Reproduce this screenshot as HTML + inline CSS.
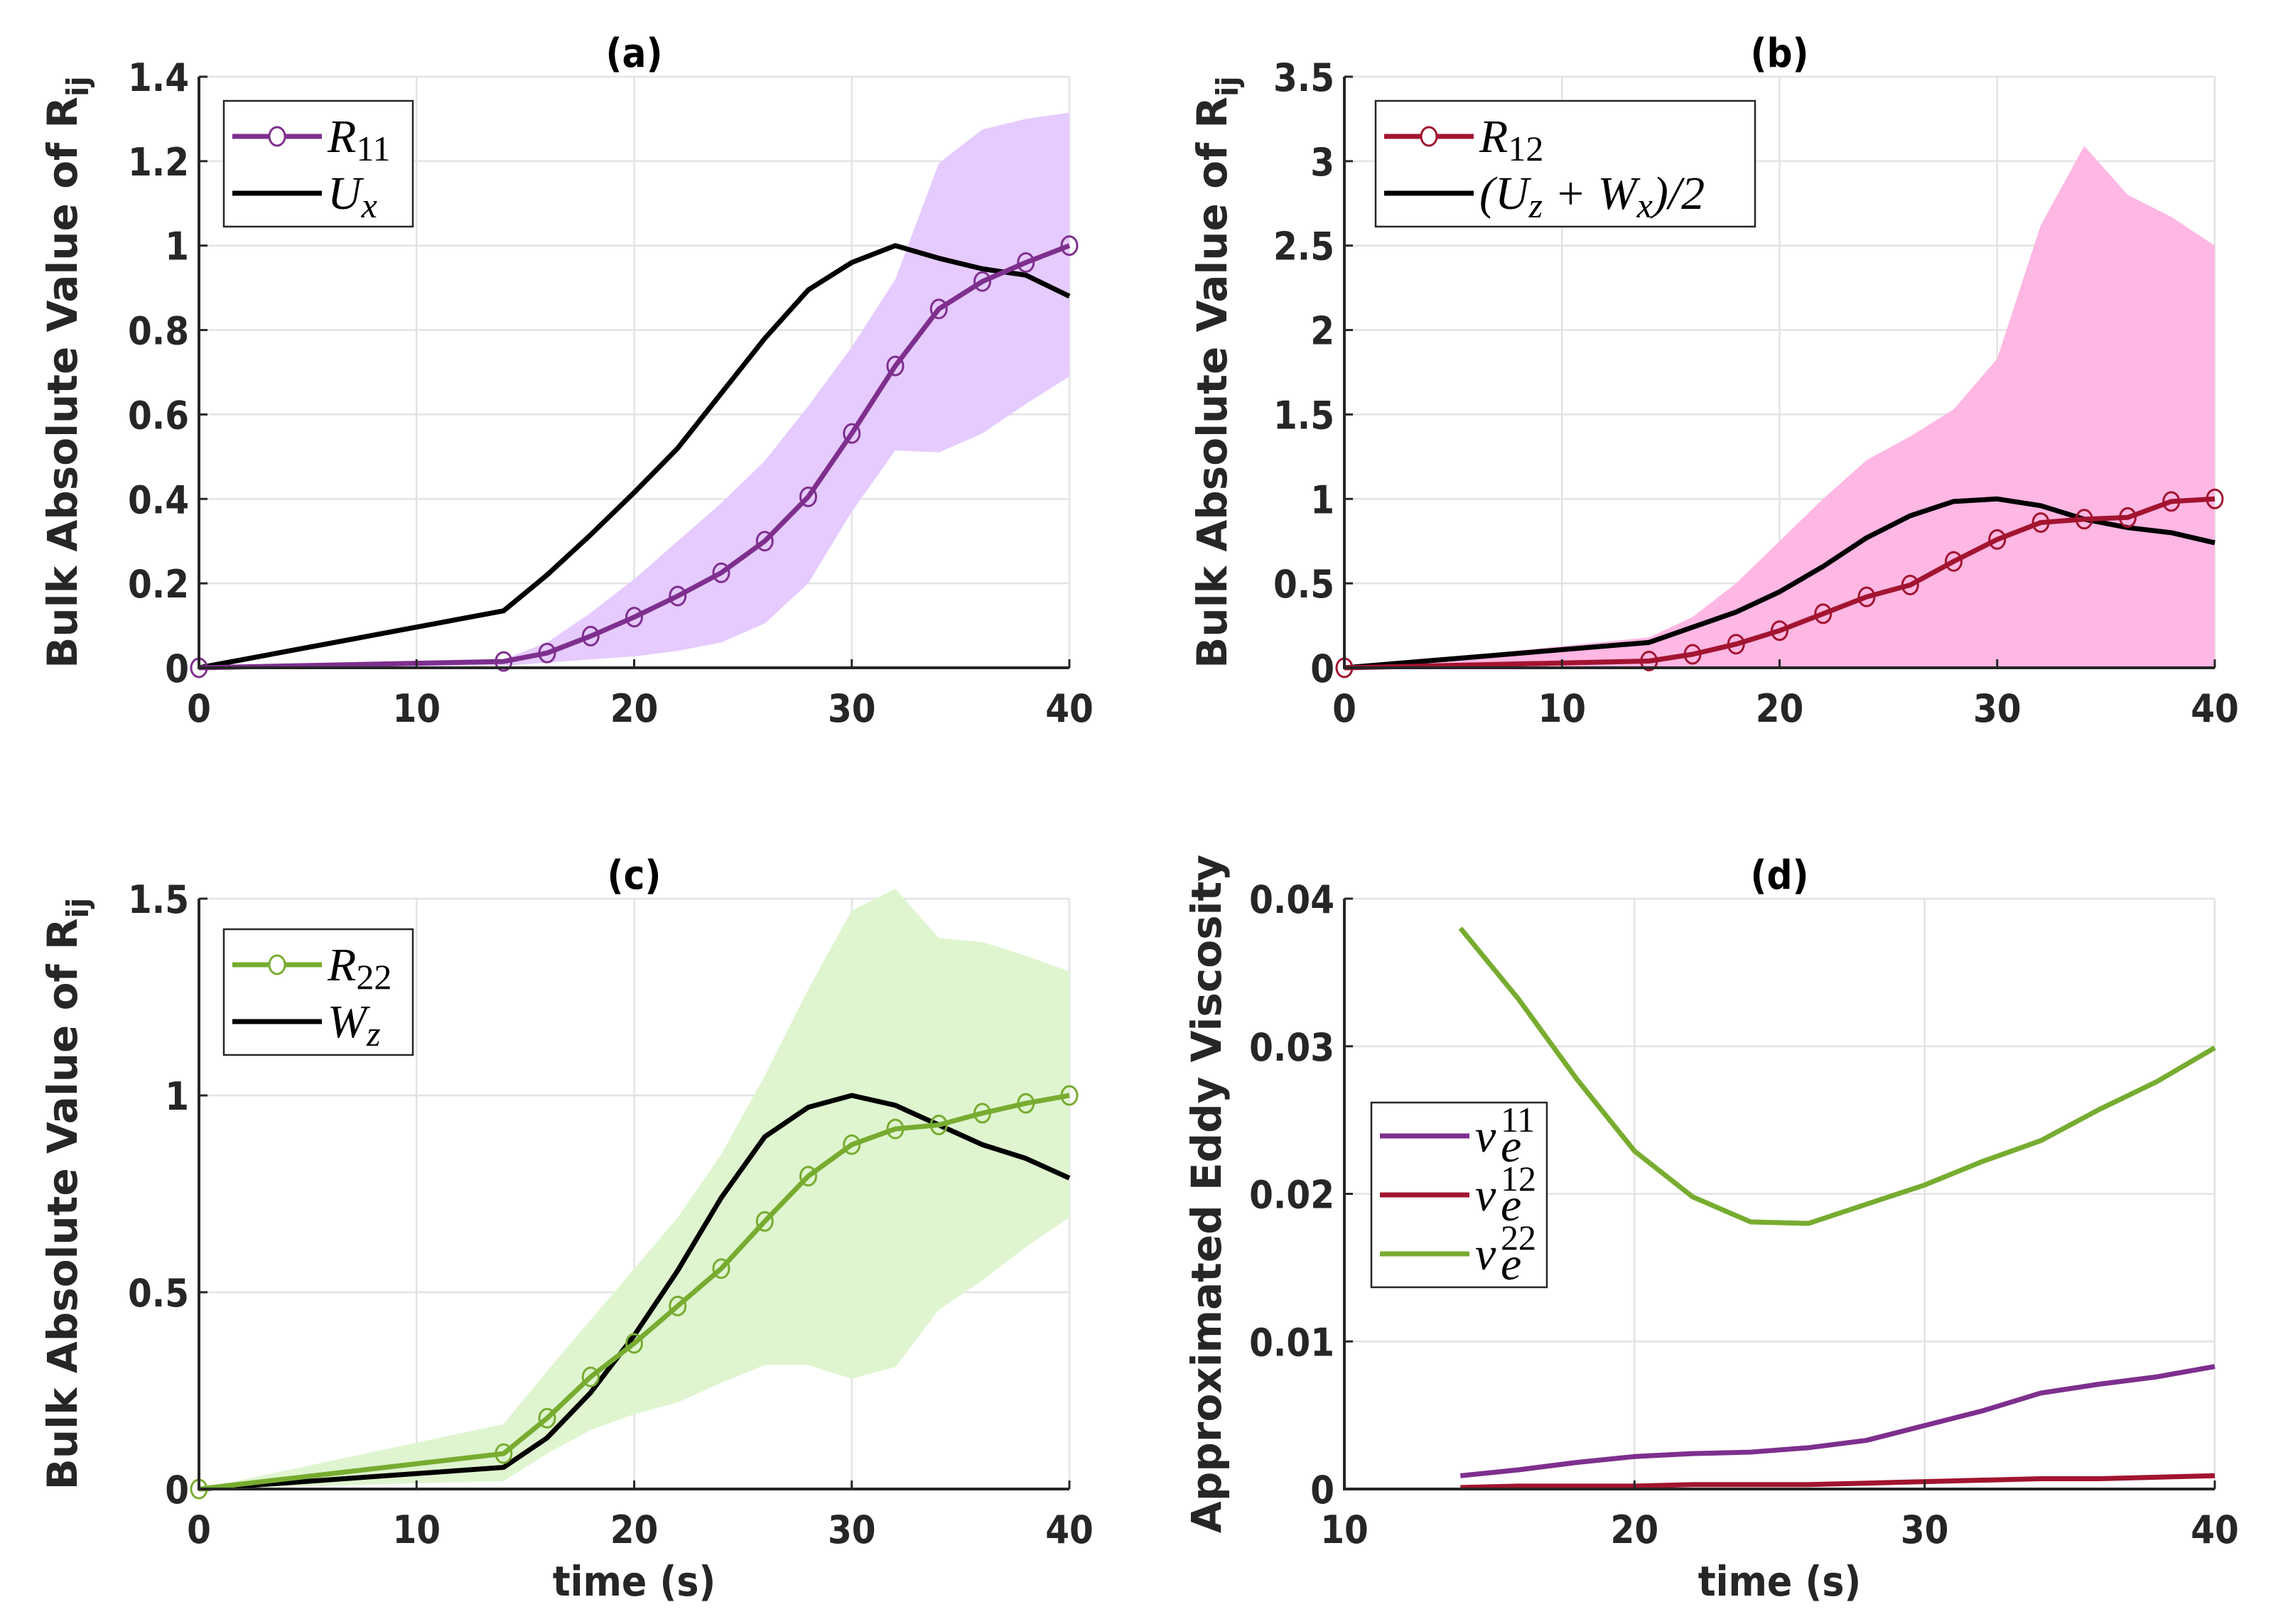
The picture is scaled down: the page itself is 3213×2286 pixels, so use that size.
<!DOCTYPE html>
<html><head><meta charset="utf-8">
<style>
html,body{margin:0;padding:0;background:#fff;}
svg{display:block;}
.tk{font-family:"DejaVu Sans Condensed","DejaVu Sans","Liberation Sans",sans-serif;font-weight:bold;font-size:54px;fill:#262626;}
.ttl{font-family:"DejaVu Sans Condensed","DejaVu Sans","Liberation Sans",sans-serif;font-weight:bold;font-size:56px;fill:#000;}
.xl{font-family:"DejaVu Sans Condensed","DejaVu Sans","Liberation Sans",sans-serif;font-weight:bold;font-size:58px;fill:#262626;}
.yl{font-family:"DejaVu Sans","Liberation Sans",sans-serif;font-weight:bold;font-size:58px;fill:#262626;}
.lg{font-family:"Liberation Serif",serif;font-style:italic;font-size:66px;fill:#000;}
.lgn{font-family:"Liberation Serif",serif;font-size:50px;fill:#000;}
</style></head>
<body>
<svg id="fig" width="3213" height="2286" viewBox="0 0 3213 2286" xmlns="http://www.w3.org/2000/svg"></svg>
<script>
const tA = [0,14,16,18,20,22,24,26,28,30,32,34,36,38,40];
const r11 = [0,0.015,0.035,0.075,0.12,0.17,0.225,0.30,0.405,0.555,0.715,0.85,0.915,0.96,1.0];
const ux = [0,0.135,0.22,0.315,0.415,0.52,0.65,0.78,0.895,0.96,1.0,0.97,0.945,0.93,0.88];
const r11Up = [0,0.02,0.06,0.13,0.21,0.30,0.39,0.49,0.62,0.76,0.92,1.195,1.275,1.30,1.315];
const r11Lo = [0,0.005,0.012,0.02,0.027,0.04,0.06,0.105,0.20,0.37,0.515,0.51,0.555,0.625,0.69];
const r12 = [0,0.04,0.08,0.14,0.22,0.32,0.42,0.49,0.63,0.76,0.86,0.88,0.89,0.985,1.0];
const uzwx = [0,0.15,0.24,0.33,0.45,0.6,0.77,0.9,0.985,1.0,0.96,0.88,0.83,0.80,0.74];
const r12Up = [0,0.18,0.3,0.5,0.75,1.0,1.23,1.37,1.53,1.83,2.62,3.09,2.8,2.67,2.5];
const r12Lo = [0,0,0,0,0,0,0,0,0,0,0,0,0,0,0];
const r22 = [0,0.09,0.18,0.285,0.37,0.465,0.56,0.68,0.795,0.875,0.915,0.925,0.955,0.98,1.0];
const wz = [0,0.055,0.13,0.245,0.39,0.555,0.74,0.895,0.97,1.0,0.975,0.925,0.875,0.84,0.79];
const r22Up = [0,0.165,0.3,0.43,0.56,0.69,0.85,1.05,1.27,1.47,1.525,1.4,1.39,1.355,1.315];
const r22Lo = [0,0.02,0.09,0.15,0.19,0.22,0.27,0.315,0.315,0.28,0.31,0.455,0.53,0.615,0.69];
const tD = [14,16,18,20,22,24,26,28,30,32,34,36,38,40];
const nu11 = [0.0009,0.0013,0.0018,0.0022,0.0024,0.0025,0.0028,0.0033,0.0043,0.0053,0.0065,0.0071,0.0076,0.0083];
const nu12 = [0.0001,0.0002,0.0002,0.0002,0.0003,0.0003,0.0003,0.0004,0.0005,0.0006,0.0007,0.0007,0.0008,0.0009];
const nu22 = [0.038,0.0332,0.0278,0.0229,0.0198,0.0181,0.018,0.0193,0.0206,0.0222,0.0236,0.0257,0.0276,0.0299];
const ticksXA = [0,10,20,30,40];
const ticksXD = [10,20,30,40];
const ticksYA = [0,0.2,0.4,0.6,0.8,1,1.2,1.4];
const ticksYB = [0,0.5,1,1.5,2,2.5,3,3.5];
const ticksYC = [0,0.5,1,1.5];
const ticksYD = [0,0.01,0.02,0.03,0.04];

const NS="http://www.w3.org/2000/svg";
const svg=document.getElementById('fig');
function mk(tag,attrs,parent){const e=document.createElementNS(NS,tag);for(const k in attrs)e.setAttribute(k,attrs[k]);(parent||svg).appendChild(e);return e;}

function panel(o){
  const g=mk('g',{});
  
  
  const X=v=>o.L+(v-o.x0)/(o.x1-o.x0)*(o.R-o.L);
  const Y=v=>o.B-(v-o.y0)/(o.y1-o.y0)*(o.B-o.T);
  o.xt.forEach(v=>{const l=mk('line',{x1:X(v),x2:X(v),y1:o.T,y2:o.B,stroke:'#e3e3e3','stroke-width':2.5},g);
    });
  o.yt.forEach(v=>{const l=mk('line',{x1:o.L,x2:o.R,y1:Y(v),y2:Y(v),stroke:'#e3e3e3','stroke-width':2.5},g);
    });
  (o.bands||[]).forEach(b=>{
    let d='';b.t.forEach((t,i)=>{d+=(i?'L':'M')+X(t)+' '+Y(b.up[i]);});
    for(let i=b.t.length-1;i>=0;i--)d+='L'+X(b.t[i])+' '+Y(b.lo[i]);
    const p=mk('path',{d:d+'Z',fill:b.color,stroke:'none'},g);
    
  });
  o.series.forEach(s=>{
    const pts=s.t.map((t,i)=>X(t)+','+Y(s.v[i])).join(' ');
    const pl=mk('polyline',{points:pts,fill:'none',stroke:s.color,'stroke-width':7,'stroke-linejoin':'round'},g);
    
    if(s.marker){s.t.forEach((t,i)=>{const c=mk('ellipse',{cx:X(t),cy:Y(s.v[i]),rx:11,ry:13,fill:'none',stroke:s.color,'stroke-width':3},g);
      });}
  });
  const ax=mk('path',{d:`M${o.L} ${o.T}L${o.L} ${o.B}L${o.R} ${o.B}`,fill:'none',stroke:'#262626','stroke-width':4},g);
  
  o.xt.forEach(v=>{mk('line',{x1:X(v),x2:X(v),y1:o.B,y2:o.B-12,stroke:'#262626','stroke-width':3},g);
    const t=mk('text',{x:X(v),y:o.B+76,'text-anchor':'middle',class:'tk'},g);t.textContent=v;
    });
  o.yt.forEach(v=>{mk('line',{x1:o.L,x2:o.L+12,y1:Y(v),y2:Y(v),stroke:'#262626','stroke-width':3},g);
    const t=mk('text',{x:o.L-14,y:Y(v)+20,'text-anchor':'end',class:'tk'},g);t.textContent=v;
    });
  const tt=mk('text',{x:(o.L+o.R)/2,y:o.T-14,'text-anchor':'middle',class:'ttl'},g);tt.textContent=o.title;
  
  if(o.xlabel){const xl=mk('text',{x:(o.L+o.R)/2,y:o.B+150,'text-anchor':'middle',class:'xl'},g);xl.textContent=o.xlabel;
    }
  const yc=(o.T+o.B)/2;
  const yl=mk('text',{x:o.ylx,y:yc,'text-anchor':'middle',class:'yl',transform:`rotate(-90 ${o.ylx} ${yc})`},g);
  
  if(o.ylabel){yl.textContent=o.ylabel;}else{yl.textContent='Bulk Absolute Value of R';const s=mk('tspan',{'font-size':'42','dy':'16'},yl);s.textContent='ij';}
  const lg=o.legend;
  const r=mk('rect',{x:lg.x,y:lg.y,width:lg.w,height:lg.h,fill:'#fff',stroke:'#262626','stroke-width':2.5},g);
  
  lg.items.forEach((it,i)=>{
    const yy=lg.y+lg.first+i*lg.step;
    const ln=mk('line',{x1:lg.x+12,x2:lg.x+138,y1:yy,y2:yy,stroke:it.color,'stroke-width':7},g);
    
    if(it.marker)mk('ellipse',{cx:lg.x+75,cy:yy,rx:11,ry:13,fill:'#fff',stroke:it.color,'stroke-width':3},g);
    const tx=lg.x+146;
    if(it.sup){
      const t=mk('text',{x:tx,y:yy+22,class:'lg','font-size':'76'},g);t.textContent=it.main;
      
      const s1=mk('text',{x:tx+36,y:yy-6,class:'lgn'},g);s1.textContent=it.sup;
      const s2=mk('text',{x:tx+36,y:yy+36,class:'lg','font-size':'50'},g);s2.textContent=it.sub;
    } else {
      const t=mk('text',{x:tx,y:yy+22,class:'lg'},g);
      
      (it.parts).forEach(p=>{const s=mk('tspan',p.sub?{class:'lgn','font-style':p.it?'italic':'normal','font-size':'44','dy':'12'}:(p.back?{'dy':'-12'}:{}),t);s.textContent=p.s;});
    }
  });
}

const PUR='#7E2F8E',RED='#A2142F',GRN='#77AC30';
panel({name:'panel-a',L:280,R:1505,T:108,B:940,x0:0,x1:40,y0:0,y1:1.4,xt:ticksXA,yt:ticksYA,title:'(a)',ylx:108,
  bands:[{name:'r11-band',t:tA,up:r11Up,lo:r11Lo,color:'#E5CBFF'}],
  series:[{name:'ux-line',t:tA,v:ux,color:'#000'},{name:'r11-line',t:tA,v:r11,color:PUR,marker:true}],
  legend:{x:315,y:142,w:266,h:177,first:50,step:80,items:[{color:PUR,marker:true,parts:[{s:'R'},{s:'11',sub:true}]},{color:'#000',parts:[{s:'U'},{s:'x',sub:true,it:true}]}]}});
panel({name:'panel-b',L:1892,R:3117,T:108,B:940,x0:0,x1:40,y0:0,y1:3.5,xt:ticksXA,yt:ticksYB,title:'(b)',ylx:1726,
  bands:[{name:'r12-band',t:tA,up:r12Up,lo:r12Lo,color:'#FFB7E3'}],
  series:[{name:'uz-wx-line',t:tA,v:uzwx,color:'#000'},{name:'r12-line',t:tA,v:r12,color:RED,marker:true}],
  legend:{x:1936,y:142,w:534,h:177,first:50,step:80,items:[{color:RED,marker:true,parts:[{s:'R'},{s:'12',sub:true}]},
    {color:'#000',parts:[{s:'(U'},{s:'z',sub:true,it:true},{s:' + W',back:true},{s:'x',sub:true,it:true},{s:')/2',back:true}]}]}});
panel({name:'panel-c',L:280,R:1505,T:1265,B:2096,x0:0,x1:40,y0:0,y1:1.5,xt:ticksXA,yt:ticksYC,title:'(c)',xlabel:'time (s)',ylx:108,
  bands:[{name:'r22-band',t:tA,up:r22Up,lo:r22Lo,color:'#DFF5D0'}],
  series:[{name:'wz-line',t:tA,v:wz,color:'#000'},{name:'r22-line',t:tA,v:r22,color:GRN,marker:true}],
  legend:{x:315,y:1308,w:266,h:177,first:50,step:80,items:[{color:GRN,marker:true,parts:[{s:'R'},{s:'22',sub:true}]},{color:'#000',parts:[{s:'W'},{s:'z',sub:true,it:true}]}]}});
panel({name:'panel-d',L:1892,R:3117,T:1265,B:2096,x0:10,x1:40,y0:0,y1:0.04,xt:ticksXD,yt:ticksYD,title:'(d)',xlabel:'time (s)',ylx:1718,
  ylabel:'Approximated Eddy Viscosity',
  series:[{name:'nu11-line',t:tD,v:nu11,color:PUR},{name:'nu12-line',t:tD,v:nu12,color:RED},{name:'nu22-line',t:tD,v:nu22,color:GRN}],
  legend:{x:1930,y:1552,w:247,h:260,first:47,step:83,items:[{color:PUR,main:'\u03BD',sup:'11',sub:'e'},{color:RED,main:'\u03BD',sup:'12',sub:'e'},{color:GRN,main:'\u03BD',sup:'22',sub:'e'}]}});
</script>
</body></html>
